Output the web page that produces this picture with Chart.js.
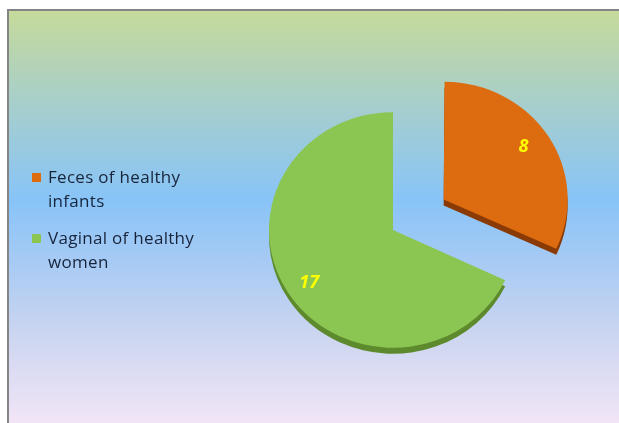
<!DOCTYPE html>
<html>
<head>
<meta charset="utf-8">
<script src="https://cdn.jsdelivr.net/npm/chart.js"></script>
<style>
  html, body { margin: 0; padding: 0; background: #fff; }
  #frame {
    position: absolute; left: 7px; top: 9px; width: 640px; height: 430px;
    border-top: 2px solid #858585; border-left: 2px solid #858585;
    background: linear-gradient(to bottom, #c6da9a 0%, #a9cfc8 20%, #88c4f8 44%, #a6caf4 58%, #cdd6f0 76%, #fae8f8 100%);
  }
  #pieChart { position: absolute; left: 0; top: 0; }
  #legend {
    position: absolute; left: 32px; top: 165px; width: 185px;
    font-family: "Open Sans", sans-serif; font-size: 17px; letter-spacing: 0.3px;
    line-height: 24px; color: #18243a;
  }
  .item { position: relative; padding-left: 16px; margin-bottom: 13px; }
  .swatch { position: absolute; left: 0; top: 8px; width: 9px; height: 9px; }
</style>
</head>
<body>
<div id="frame"></div>
<canvas id="pieChart" width="619" height="423"></canvas>
<div id="legend"></div>
<script>
var labels = ["Feces of healthy infants", "Vaginal of healthy women"];
var counts = [8, 17];
var colors = ["#dd6b0f", "#8cc652"];
var sideColors = ["#8a3a04", "#5d8a2d"];

var depth = 6;      // thickness of the slice edge
var squash = 0.95;  // vertical tilt of the pie

// legend on the left, wrapped like the original
var legend = document.getElementById("legend");
labels.forEach(function(l, i) {
  var item = document.createElement("div");
  item.className = "item";
  item.innerHTML = '<span class="swatch" style="background:' + colors[i] + '"></span>' + l;
  legend.appendChild(item);
});

function tilt(ctx, chart) {
  var arc = chart.getDatasetMeta(0).data[0];
  ctx.translate(arc.x, arc.y);
  ctx.scale(1, squash);
  ctx.translate(-arc.x, -arc.y);
}

var tiltedPie = {
  id: "tiltedPie",
  afterDatasetUpdate: function(chart, args) {
    // an exploded arc is drawn a bit larger, pull it back to the pie radius
    args.meta.data.forEach(function(arc) {
      var off = (arc.options.offset || 0) / 4;
      arc.outerRadius -= off * (1 - Math.sin(Math.min(Math.PI, arc.circumference)));
    });
  },
  beforeDatasetsDraw: function(chart) {
    var ctx = chart.ctx;
    ctx.save();
    tilt(ctx, chart);
    // darker copy pushed down gives the 3d edge
    ctx.save();
    ctx.translate(0, depth / squash);
    chart.getDatasetMeta(0).data.forEach(function(arc, i) {
      var side = Object.create(arc);
      side.options = Object.assign({}, arc.options, { backgroundColor: sideColors[i], borderColor: sideColors[i] });
      side.draw(ctx);
    });
    ctx.restore();
  },
  afterDatasetsDraw: function(chart) {
    var ctx = chart.ctx;
    ctx.restore();
    var meta = chart.getDatasetMeta(0);
    ctx.save();
    ctx.fillStyle = "#ffff00";
    ctx.font = "italic bold 18px 'Open Sans', sans-serif";
    ctx.textAlign = "center";
    ctx.textBaseline = "middle";
    meta.data.forEach(function(arc, i) {
      var mid = (arc.startAngle + arc.endAngle) / 2;
      var off = (arc.options.offset || 0) / 4;
      var r = arc.outerRadius * 0.8 + off;
      ctx.fillText(String(counts[i]), arc.x + Math.cos(mid) * r, arc.y + Math.sin(mid) * r);
    });
    ctx.restore();
  }
};

new Chart(document.getElementById("pieChart"), {
  type: "pie",
  data: {
    labels: labels,
    datasets: [{
      data: counts,
      backgroundColor: colors,
      borderWidth: 0,
      offset: [240, 0],
      hoverOffset: 0
    }]
  },
  options: {
    responsive: false,
    animation: false,
    cutout: "0%",
    radius: 124,
    layout: { padding: { left: 207, right: 40, top: 60, bottom: 23 } },
    plugins: {
      legend: { display: false },
      tooltip: { enabled: false }
    }
  },
  plugins: [tiltedPie]
});
</script>
</body>
</html>
